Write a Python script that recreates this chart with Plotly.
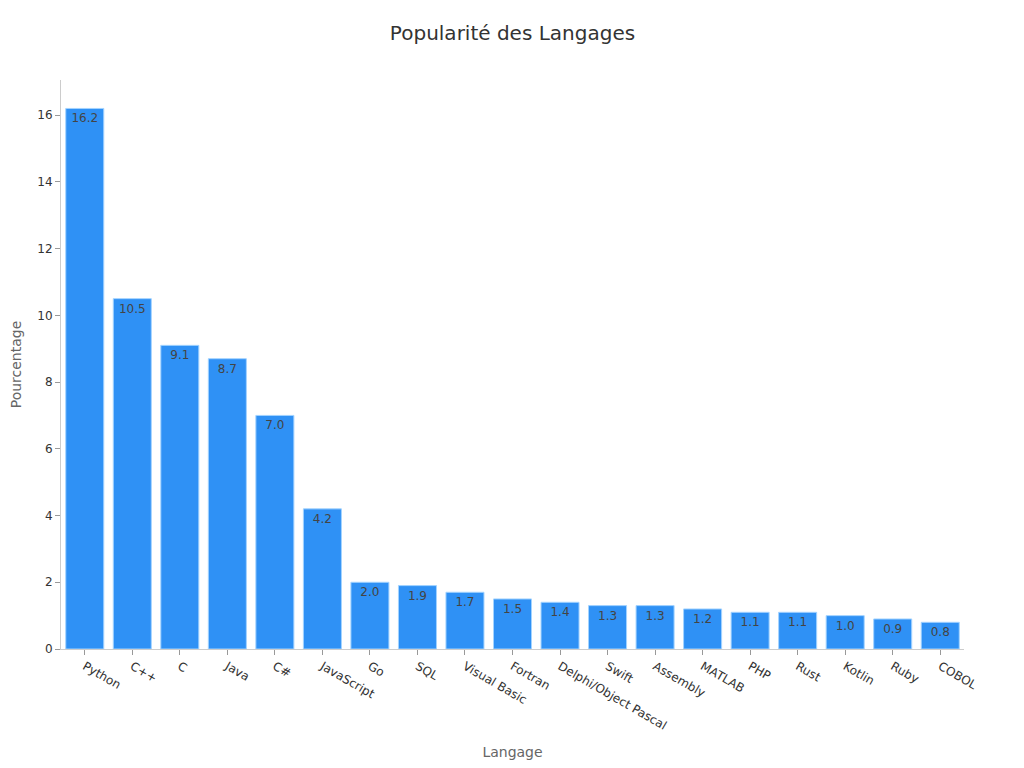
import plotly.graph_objects as go

# données
langages = ["Python", "C++", "C", "Java", "C#", "JavaScript", "Go", "SQL",
            "Visual Basic", "Fortran", "Delphi/Object Pascal", "Swift",
            "Assembly", "MATLAB", "PHP", "Rust", "Kotlin", "Ruby", "COBOL"]
pourcentages = [16.2, 10.5, 9.1, 8.7, 7.0, 4.2, 2.0, 1.9, 1.7, 1.5, 1.4,
                1.3, 1.3, 1.2, 1.1, 1.1, 1.0, 0.9, 0.8]

fig = go.Figure(go.Bar(
    x=langages,
    y=pourcentages,
    text=[f"{v:.1f}" for v in pourcentages],
    textposition="inside",
    insidetextanchor="end",
    textfont=dict(color="#444444", size=12),
    marker=dict(color="#2f91f5", line=dict(color="#a3d3ff", width=1)),
))

fig.update_layout(
    title=dict(text="Popularité des Langages", xref="paper", x=0.5,
               y=0.967, yanchor="middle",
               font=dict(size=20, color="#333333")),
    font=dict(family="DejaVu Sans", size=12, color="#333333"),
    paper_bgcolor="white",
    plot_bgcolor="white",
    width=1024, height=768,
    margin=dict(l=53, r=68, t=72, b=127),
    bargap=0.2,
    showlegend=False,
)
fig.update_xaxes(
    title=dict(text="Langage", font=dict(size=14, color="#666666"), standoff=15),
    tickangle=30,
    showline=True, linecolor="#cccccc", linewidth=1,
    ticks="outside", tickcolor="#999999", ticklen=5,
    showgrid=False, automargin=False,
)
fig.update_yaxes(
    title=dict(text="Pourcentage", font=dict(size=14, color="#666666"), standoff=16),
    showline=True, linecolor="#cccccc", linewidth=1,
    ticks="outside", tickcolor="#999999", ticklen=5,
    showgrid=False, zeroline=False, automargin=False,
    dtick=2,
)

fig.write_html("out.html")
